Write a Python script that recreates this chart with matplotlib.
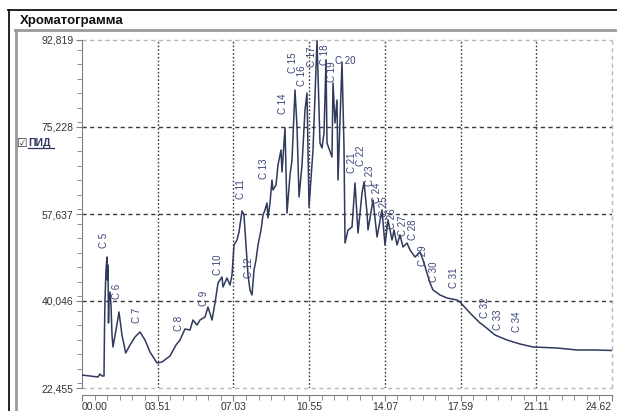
import matplotlib
matplotlib.use('Agg')
import matplotlib.pyplot as plt
from matplotlib.lines import Line2D
from matplotlib.ticker import MultipleLocator

W, H = 617, 411

# trace (minutes, signal)
t = [0.000, 0.372, 0.743, 0.836, 0.929, 1.022, 1.045, 1.068, 1.115, 1.161, 1.185, 1.208,
     1.231, 1.254, 1.301, 1.347, 1.394, 1.440, 1.579, 1.719, 1.858, 2.030, 2.230, 2.462,
     2.694, 2.927, 3.159, 3.484, 3.716, 4.088, 4.367, 4.552, 4.785, 5.017, 5.156, 5.342,
     5.481, 5.714, 5.853, 6.039, 6.178, 6.318, 6.503, 6.550, 6.736, 6.875, 6.968, 7.061,
     7.200, 7.293, 7.432, 7.525, 7.618, 7.711, 7.804, 7.897, 7.990, 8.083, 8.176, 8.315,
     8.408, 8.501, 8.594, 8.640, 8.733, 8.826, 8.872, 9.012, 9.105, 9.244, 9.291, 9.430,
     9.523, 9.662, 9.755, 9.895, 9.988, 10.081, 10.220, 10.359, 10.452, 10.545, 10.731,
     10.917, 11.056, 11.149, 11.242, 11.335, 11.381, 11.613, 11.660, 11.753, 11.846, 11.892,
     12.078, 12.171, 12.218, 12.357, 12.543, 12.682, 12.822, 13.008, 13.101, 13.240, 13.287,
     13.519, 13.705, 13.936, 14.075, 14.215, 14.401, 14.494, 14.633, 14.772, 14.912, 15.098,
     15.237, 15.469, 15.702, 15.841, 16.027, 16.166, 16.306, 16.631, 16.956, 17.420, 17.560,
     18.024, 18.489, 18.628, 19.185, 19.743, 20.347, 20.951, 21.508, 22.065, 22.994, 23.830,
     24.620]
sig = [25.08, 24.88, 24.68, 25.29, 24.88, 24.88, 34.18, 40.25, 46.31, 48.94, 44.29, 47.33,
       35.60, 40.25, 41.87, 39.24, 33.17, 30.75, 34.18, 37.82, 33.17, 29.53, 31.15, 32.77,
       33.78, 32.16, 29.73, 27.51, 27.71, 28.93, 31.15, 32.16, 34.39, 34.18, 36.20, 35.19,
       36.20, 36.81, 38.83, 36.20, 39.64, 43.69, 44.90, 42.88, 44.70, 43.28, 45.30, 51.37,
       52.38, 53.98, 58.24, 57.43, 51.37, 45.30, 42.27, 41.26, 46.31, 48.34, 51.37, 54.40,
       57.44, 58.45, 59.86, 56.83, 59.86, 64.51, 62.49, 63.50, 67.55, 70.58, 66.13, 75.03,
       57.84, 65.52, 68.56, 82.71, 75.23, 61.08, 67.55, 78.67, 82.10, 59.05, 70.58,
       92.70, 71.99, 70.98, 74.02, 88.78, 71.99, 69.16, 84.13, 76.04, 80.69, 64.51,
       88.37, 71.19, 51.77, 54.40, 55.01, 63.91, 53.80, 61.88, 64.11, 57.84, 54.40,
       60.47, 52.99, 58.45, 51.37, 56.42, 52.38, 54.40, 51.37, 53.39, 50.96, 51.77,
       50.36, 48.94, 49.95, 48.34, 45.71, 43.69, 42.27, 41.26, 40.65, 40.25, 39.84,
       37.62, 35.60, 35.19, 33.17, 32.16, 31.35, 30.75, 30.64, 30.54, 30.14, 30.14,
       30.04]

# peak labels
peak_names = ['C 5', 'C 6', 'C 7', 'C 8', 'C 9', 'C 10', 'C 11', 'C 12', 'C 13', 'C 14',
              'C 15', 'C 16', 'C 17', 'C 18', 'C 19', 'C 21', 'C 22', 'C 23', 'C 24',
              'C 25', 'C 26', 'C 27', 'C 28', 'C 29', 'C 30', 'C 31', 'C 32', 'C 33', 'C 34']
peak_t = [1.022, 1.626, 2.555, 4.506, 5.667, 6.318, 7.386, 7.758, 8.454, 9.337,
          9.802, 10.220, 10.684, 11.288, 11.613, 12.543, 12.961, 13.379, 13.704,
          14.030, 14.420, 14.900, 15.376, 15.841, 16.352, 17.281, 18.721, 19.325, 20.207]
peak_v = [52.38, 42.07, 37.22, 35.60, 40.65, 47.33, 62.69, 46.72, 66.74, 79.88,
          88.17, 85.54, 89.38, 89.79, 86.35, 67.95, 69.36, 65.32, 61.88,
          59.05, 56.60, 55.20, 54.40, 49.14, 45.91, 44.70, 38.63, 36.20, 35.80]

y_ticks = [22.455, 40.046, 57.637, 75.228, 92.819]
y_labels = ['22,455', '40,046', '57,637', '75,228', '92,819']
x_ticks = [0, 3.5171, 7.0343, 10.5514, 14.0686, 17.5857, 21.1029, 24.62]
x_labels = ['00.00', '03.51', '07.03', '10.55', '14.07', '17.59', '21.11', '24.62']

line_col = '#2f3a5c'
lab_col = '#3a4578'
grid_col = '#3a3a3a'
light = '#b8b8b8'

fig = plt.figure(figsize=(W / 100, H / 100), dpi=100)
ax = fig.add_axes([82 / W, 1 - 388 / H, 530 / W, 348 / H])

ax.plot(t, sig, color=line_col, lw=1.1, zorder=3)
ax.set_xlim(0, 24.62)
ax.set_ylim(22.455, 92.819)

for yv in y_ticks[1:-1]:
    ax.axhline(yv, color=grid_col, lw=1, ls=(0, (3, 2.5)), zorder=1)
for xv in x_ticks[1:-1]:
    ax.axvline(xv, color=grid_col, lw=1, ls=(0, (1.2, 1.5)), zorder=1)
ax.axhline(92.819, color=light, lw=1, ls=(0, (3, 2.5)), clip_on=False)
ax.axhline(22.455, color=light, lw=1, ls=(0, (3, 2.5)), clip_on=False)
ax.axvline(24.62, color=light, lw=1, ls=(0, (3, 2.5)), clip_on=False)

for name, px, pv in zip(peak_names, peak_t, peak_v):
    ax.text(px, pv, name, rotation=90, ha='center', va='center', fontsize=7,
            color=lab_col, family='Liberation Sans', zorder=4)
ax.text(12.25, 88.57, 'C 20', ha='center', va='center', fontsize=7,
        color=lab_col, family='Liberation Sans', zorder=4)

ax.spines['top'].set_visible(False)
ax.spines['right'].set_visible(False)
ax.spines['left'].set_color('#808080')
ax.spines['bottom'].set_color('#808080')
ax.spines['bottom'].set_position(('outward', 5))

ax.set_yticks(y_ticks)
ax.set_yticklabels(y_labels)
ax.set_xticks(x_ticks)
ax.set_xticklabels(x_labels)
ax.yaxis.set_minor_locator(MultipleLocator(17.591 / 6))
ax.xaxis.set_minor_locator(MultipleLocator(3.5171 / 6))
ax.tick_params(which='major', length=4, color='#808080', labelsize=7.5,
               labelcolor='#333333')
ax.tick_params(axis='y', pad=2)
ax.tick_params(axis='x', pad=1)
ax.tick_params(which='minor', length=3.5, color='#808080')
for lab in ax.get_xticklabels() + ax.get_yticklabels():
    lab.set_family('Liberation Sans')
xl = ax.get_xticklabels()
xl[0].set_ha('left')
xl[-1].set_ha('right')

# panel frame
def fline(x0, y0, x1, y1, **kw):
    fig.add_artist(Line2D([x0 / W, x1 / W], [1 - y0 / H, 1 - y1 / H],
                          transform=fig.transFigure, **kw))

fline(8, 10.5, 617, 10.5, color='#111111', lw=1.3)
fline(8.5, 10, 8.5, 411, color='#111111', lw=1.3)
fline(15, 30.5, 617, 30.5, color='#9a9a9a', lw=2)
fline(15.5, 30, 15.5, 411, color='#9a9a9a', lw=2)

fig.text(20 / W, 1 - 21 / H, 'Хроматограмма', fontsize=9.5, fontweight='bold',
         family='Liberation Sans', color='#111111', ha='left', va='center')

fig.text(17 / W, 1 - 143 / H, '☑', fontsize=8.5, family='DejaVu Sans',
         color='#333333', ha='left', va='center')
fig.text(28 / W, 1 - 143 / H, 'ПИД', fontsize=7.5, fontweight='bold',
         family='Liberation Sans', color='#2a3560', ha='left', va='center')
fline(28, 148, 54, 148, color='#2a3560', lw=0.9)

fig.savefig('out.png', dpi=100)
